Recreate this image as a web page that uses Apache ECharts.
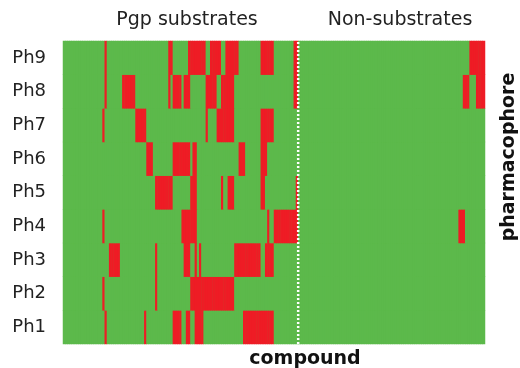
<!DOCTYPE html>
<html>
<head>
<meta charset="utf-8">
<style>html,body{margin:0;padding:0;background:#fff}#c{width:520px;height:368px}</style>
<script src="https://cdn.jsdelivr.net/npm/echarts@6/dist/echarts.min.js"></script>
</head>
<body>
<div id="c"></div>
<script>
// ---- data ----
const pharmacophores = ['Ph1','Ph2','Ph3','Ph4','Ph5','Ph6','Ph7','Ph8','Ph9'];
const substrateCount = 107;      // Pgp substrates (left block)
const nonSubstrateCount = 85;    // Non-substrates (right block)
const groupLabels = ['Pgp substrates', 'Non-substrates'];
// inclusive compound-index ranges where the pharmacophore is matched (red)
const ph1Red = [[19,19],[37,37],[50,53],[56,57],[60,63],[82,95]];
const ph2Red = [[18,18],[42,42],[58,77]];
const ph3Red = [[21,25],[42,42],[55,57],[60,60],[62,62],[78,89],[92,95]];
const ph4Red = [[18,18],[54,60],[93,93],[96,106],[180,182]];
const ph5Red = [[42,49],[58,60],[72,72],[75,77],[90,91],[106,106]];
const ph6Red = [[38,40],[50,57],[59,60],[80,82],[90,92]];
const ph7Red = [[18,18],[33,37],[65,65],[70,77],[90,95]];
const ph8Red = [[19,19],[27,32],[48,48],[50,53],[55,57],[65,69],[72,77],[105,106],[182,184],[188,191]];
const ph9Red = [[19,19],[48,49],[57,64],[67,71],[74,79],[90,95],[105,106],[185,191]];

// ---- build ----
const redRuns = [ph1Red,ph2Red,ph3Red,ph4Red,ph5Red,ph6Red,ph7Red,ph8Red,ph9Red];
const nCompounds = substrateCount + nonSubstrateCount;
const compounds = [];
for (let i = 0; i < nCompounds; i++) compounds.push(String(i + 1));
const cells = [];
redRuns.forEach((runs, r) => {
  const row = new Array(nCompounds).fill(0);
  runs.forEach(([a, b]) => { for (let i = a; i <= b; i++) row[i] = 1; });
  row.forEach((v, i) => cells.push([i, r, v]));
});

const GREEN = '#5cb94b', RED = '#ee1c25';
const FONT = 'DejaVu Sans';
const chart = echarts.init(document.getElementById('c'), null, {renderer: 'canvas'});
chart.setOption({
  animation: false,
  grid: {left: 63, right: 35, top: 41, bottom: 24, show: true, backgroundColor: GREEN, borderWidth: 0},
  xAxis: [
    {type: 'category', data: compounds, axisLine: {show: false}, axisTick: {show: false},
     axisLabel: {show: false}, splitLine: {show: false}},
    {type: 'value', min: 0, max: nCompounds, show: false}
  ],
  yAxis: [
    {type: 'category', data: pharmacophores, axisLine: {show: false}, axisTick: {show: false},
     splitLine: {show: false},
     axisLabel: {fontFamily: FONT, fontSize: 18, color: '#222', margin: 17}},
    {type: 'value', min: 0, max: pharmacophores.length, show: false}
  ],
  visualMap: {show: false, type: 'piecewise', dimension: 2,
    pieces: [{value: 0, color: GREEN}, {value: 1, color: RED}]},
  series: [
    {type: 'heatmap', data: cells, itemStyle: {borderWidth: 0}, emphasis: {disabled: true}},
    {type: 'line', xAxisIndex: 1, yAxisIndex: 1, symbol: 'none', silent: true,
     data: [[substrateCount, 0], [substrateCount, pharmacophores.length]],
     lineStyle: {color: '#ffffff', width: 2.5, type: [2, 2]}}
  ],
  graphic: [
    {type: 'text', style: {text: groupLabels[0], font: '19px "DejaVu Sans"', fill: '#222', textAlign: 'center', textVerticalAlign: 'middle'}, x: 187, y: 20},
    {type: 'text', style: {text: groupLabels[1], font: '19px "DejaVu Sans"', fill: '#222', textAlign: 'center', textVerticalAlign: 'middle'}, x: 400, y: 20},
    {type: 'text', style: {text: 'compound', font: 'bold 19px "DejaVu Sans"', fill: '#111', textAlign: 'center', textVerticalAlign: 'middle'}, x: 305, y: 359},
    {type: 'text', style: {text: 'pharmacophore', font: 'bold 19px "DejaVu Sans"', fill: '#111', textAlign: 'center', textVerticalAlign: 'middle'}, x: 509, y: 157, rotation: Math.PI / 2}
  ]
});
</script>
</body>
</html>
